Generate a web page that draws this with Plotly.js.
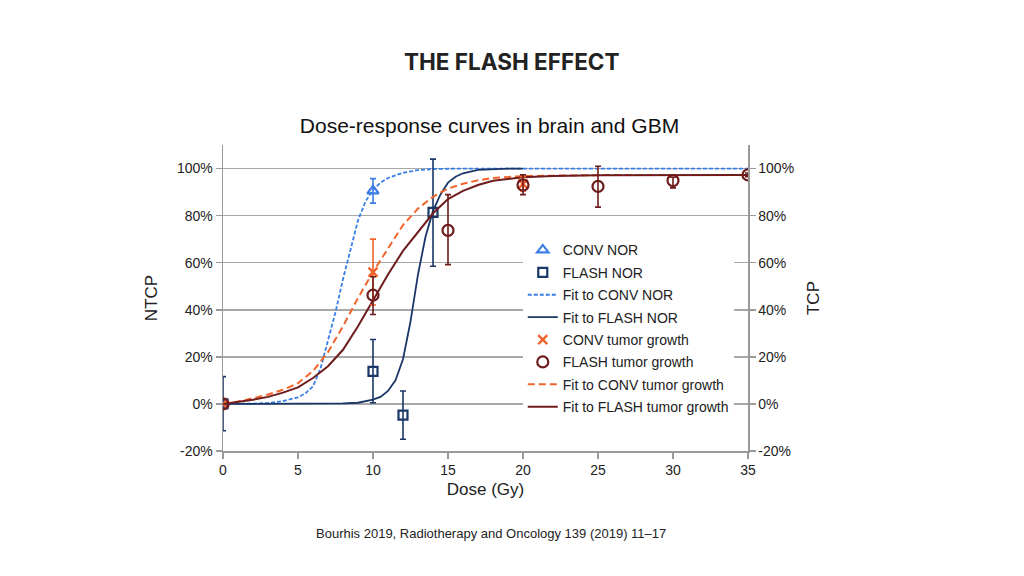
<!DOCTYPE html>
<html>
<head>
<meta charset="utf-8">
<script src="https://cdn.plot.ly/plotly-3.0.1.min.js"></script>
<style>
  html, body { margin: 0; padding: 0; background: #ffffff; }
  #chart { width: 1024px; height: 576px; }
</style>
</head>
<body>
<div id="chart"></div>
<script>
// ---- Data ----
// Measured points (dose in Gy, response in %)
const convNorDose   = [0, 10];
const convNorResp   = [0, 90.5];
const convNorErr    = [0, 5.2];

const flashNorDose  = [0, 10, 12, 14];
const flashNorResp  = [0, 13.8, -4.8, 81.4];
const flashNorErrHi = [11.6, 13.6, 10.3, 22.6];
const flashNorErrLo = [11.4, 13.3, 10.2, 22.9];

const convTumDose   = [0, 10, 20];
const convTumResp   = [0, 56, 93.5];
const convTumErr    = [0, 14, 3];

const flashTumDose  = [0, 10, 15, 20, 25, 30, 35];
const flashTumResp  = [0, 46.2, 73.7, 93, 92.4, 94.9, 97.3];
const flashTumErrHi = [0, 7.8, 15.2, 4.3, 8.6, 1.4, 0.8];
const flashTumErrLo = [0, 8.2, 14.5, 4.1, 8.8, 3.1, 0.8];

// Fitted curves
const fitConvNorDose = [0, 1, 2, 3, 4, 5, 5.5, 6, 6.5, 7, 7.5, 8, 8.5, 9, 9.5, 10, 10.5, 11, 12, 13, 14, 16, 20, 25, 30, 35];
const fitConvNorResp = [0, 0, 0.1, 0.4, 1.2, 2.8, 4.5, 7.5, 15, 27, 39, 53, 66, 78, 86, 91, 94, 96, 98.2, 99.3, 99.8, 100, 100, 100, 100, 100];

const fitFlashNorDose = [0, 2, 4, 6, 8, 9, 9.5, 10, 10.5, 11, 11.5, 12, 12.5, 13, 13.5, 14, 14.5, 15, 15.5, 16, 17, 18, 19, 20];
const fitFlashNorResp = [0, 0, 0, 0, 0.2, 0.5, 1, 1.8, 3, 5.5, 10, 19, 35, 55, 71, 82, 89, 94, 96.5, 98, 99.4, 99.8, 100, 100];

const fitConvTumDose = [0, 1, 2, 3, 4, 5, 6, 7, 8, 9, 10, 11, 12, 13, 14, 15, 16, 17, 18, 20, 22, 25, 30, 35];
const fitConvTumResp = [0, 1, 2.4, 4, 6, 8.8, 14, 22, 33, 45, 56, 66, 76, 83, 88, 91.5, 93.5, 95, 96, 96.8, 97, 97.2, 97.3, 97.3];

const fitFlashTumDose = [0, 1, 2, 3, 4, 5, 6, 7, 8, 9, 10, 11, 12, 13, 14, 15, 16, 17, 18, 20, 22, 25, 30, 35];
const fitFlashTumResp = [0, 0.8, 1.8, 3, 4.8, 7, 11, 16, 23, 33, 44, 55, 65, 73, 81, 87, 90.5, 93, 94.8, 96.3, 96.8, 97.1, 97.3, 97.3];

const yTickVals  = [-20, 0, 20, 40, 60, 80, 100];
const yTickText  = ['-20%', '0%', '20%', '40%', '60%', '80%', '100%'];
const xTickVals  = [0, 5, 10, 15, 20, 25, 30, 35];

// ---- Styles ----
const cBlue = '#3a7ee6', cNavy = '#1b3768', cOrange = '#f0642c', cRed = '#6e1c1c';
const fontFam = 'Liberation Sans, Arial, sans-serif';

function errBar(hi, lo, color) {
  const e = { type: 'data', array: hi, color: color, thickness: 1.6, width: 3 };
  if (lo) { e.symmetric = false; e.arrayminus = lo; }
  return e;
}

const traces = [
  { x: fitConvNorDose, y: fitConvNorResp, mode: 'lines', name: 'Fit to CONV NOR', legendrank: 3, legendgroup: 'g3',
    line: { color: cBlue, width: 1.8, dash: '4px,2px' } },
  { x: fitFlashNorDose, y: fitFlashNorResp, mode: 'lines', name: 'Fit to FLASH NOR', legendrank: 4, legendgroup: 'g4',
    line: { color: cNavy, width: 1.8 } },
  { x: fitConvTumDose, y: fitConvTumResp, mode: 'lines', name: 'Fit to CONV tumor growth', legendrank: 7, legendgroup: 'g7',
    yaxis: 'y2', line: { color: cOrange, width: 2, dash: '7px,4px' } },
  { x: fitFlashTumDose, y: fitFlashTumResp, mode: 'lines', name: 'Fit to FLASH tumor growth', legendrank: 8, legendgroup: 'g8',
    yaxis: 'y2', line: { color: cRed, width: 2 } },
  { x: convNorDose, y: convNorResp, mode: 'markers', name: 'CONV NOR', legendrank: 1, legendgroup: 'g1',
    marker: { symbol: 'triangle-up-open', size: 10, color: cBlue, line: { width: 2.2, color: cBlue } },
    error_y: errBar(convNorErr, null, cBlue) },
  { x: flashNorDose, y: flashNorResp, mode: 'markers', name: 'FLASH NOR', legendrank: 2, legendgroup: 'g2',
    marker: { symbol: 'square-open', size: 9, color: cNavy, line: { width: 2.2, color: cNavy } },
    error_y: errBar(flashNorErrHi, flashNorErrLo, cNavy) },
  { x: convTumDose, y: convTumResp, mode: 'markers', name: 'CONV tumor growth', legendrank: 5, legendgroup: 'g5',
    yaxis: 'y2', marker: { symbol: 'x-thin-open', size: 9, color: cOrange, line: { width: 2.4, color: cOrange } },
    error_y: errBar(convTumErr, null, cOrange) },
  { x: flashTumDose, y: flashTumResp, mode: 'markers', name: 'FLASH tumor growth', legendrank: 6, legendgroup: 'g6',
    yaxis: 'y2', marker: { symbol: 'circle-open', size: 11, color: cRed, line: { width: 2.2, color: cRed } },
    error_y: errBar(flashTumErrHi, flashTumErrLo, cRed) }
];

const axisCommon = {
  tickfont: { family: fontFam, size: 14, color: '#222' },
  showline: true, linecolor: '#9a9a9a', linewidth: 1.5,
  ticks: 'outside', ticklen: 6, tickcolor: '#9a9a9a', tickwidth: 1.5,
  zeroline: false
};

const layout = {
  width: 1024, height: 576,
  paper_bgcolor: '#ffffff', plot_bgcolor: '#ffffff',
  margin: { l: 223, r: 276, t: 145, b: 125, pad: 0 },
  showlegend: true,
  title: {
    text: 'Dose-response curves in brain and GBM',
    font: { family: fontFam, size: 21, color: '#111' },
    x: 0.478, xanchor: 'center', y: 0.781, yanchor: 'middle'
  },
  xaxis: Object.assign({}, axisCommon, {
    range: [0, 35], tickvals: xTickVals, showgrid: false,
    title: { text: 'Dose (Gy)', font: { family: fontFam, size: 17, color: '#222' }, standoff: 6 }
  }),
  yaxis: Object.assign({}, axisCommon, {
    range: [-20, 110], tickvals: yTickVals, ticktext: yTickText,
    showgrid: true, gridcolor: '#a8a8a8', gridwidth: 1.5,
    title: { text: 'NTCP', font: { family: fontFam, size: 17, color: '#222' }, standoff: 15 }
  }),
  yaxis2: Object.assign({}, axisCommon, {
    range: [-20, 110], tickvals: yTickVals, ticktext: yTickText,
    overlaying: 'y', side: 'right', anchor: 'x', showgrid: false,
    title: { text: 'TCP', font: { family: fontFam, size: 17, color: '#222' }, standoff: 14 }
  }),
  legend: {
    x: 0.571, xanchor: 'left', y: 0.708, yanchor: 'top',
    bgcolor: '#ffffff', borderwidth: 0,
    font: { family: fontFam, size: 14, color: '#222' },
    traceorder: 'grouped', tracegroupgap: 1.2
  },
  annotations: [
    { text: '<b>THE FLASH EFFECT</b>', xref: 'paper', yref: 'paper', showarrow: false,
      x: 0.5509, y: 1.2745, xanchor: 'center', yanchor: 'middle',
      font: { family: 'Inter, Open Sans, sans-serif', size: 22.5, color: '#222' } },
    { text: 'Bourhis 2019, Radiotherapy and Oncology 139 (2019) 11\u201317', xref: 'paper', yref: 'paper', showarrow: false,
      x: 0.511, y: -0.271, xanchor: 'center', yanchor: 'middle',
      font: { family: fontFam, size: 13, color: '#222' } }
  ]
};

Plotly.newPlot('chart', traces, layout, { displayModeBar: false, staticPlot: true });
</script>
</body>
</html>
